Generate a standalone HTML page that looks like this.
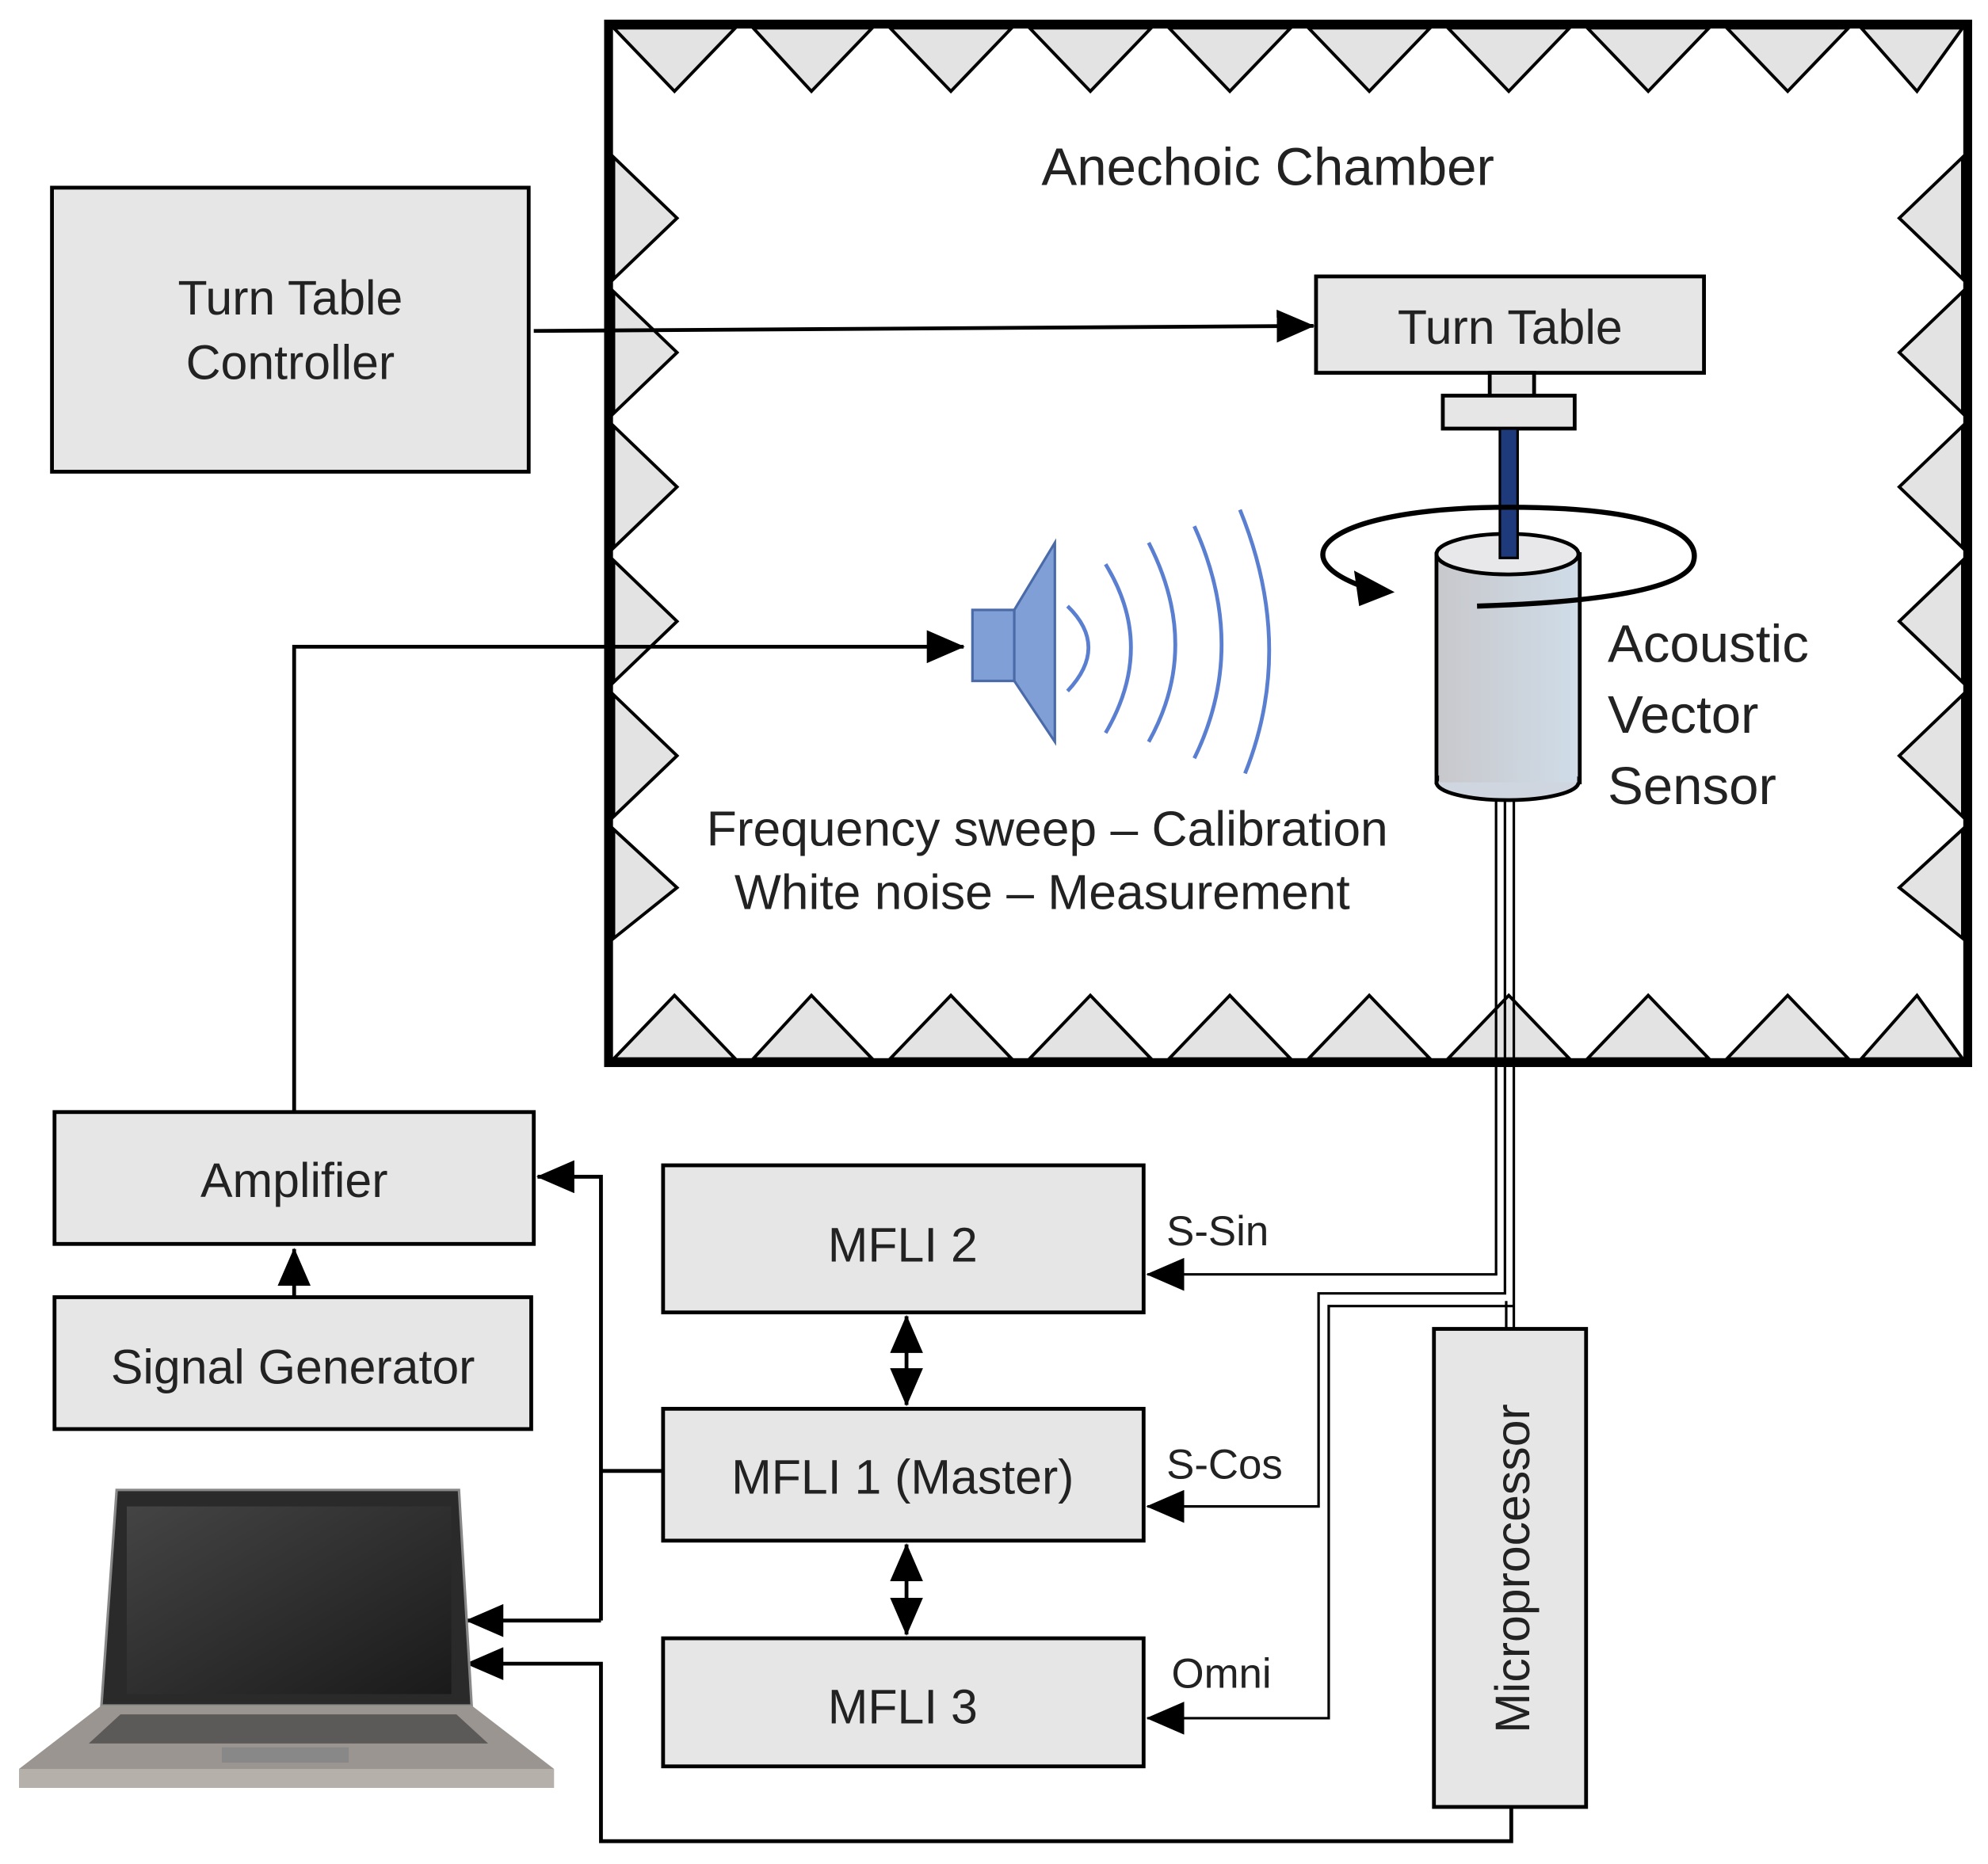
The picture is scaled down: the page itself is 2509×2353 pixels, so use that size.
<!DOCTYPE html>
<html><head><meta charset="utf-8"><style>
html,body{margin:0;padding:0;background:#fff}
svg{display:block}
text{font-family:"Liberation Sans","DejaVu Sans",sans-serif;fill:#222}
</style></head><body>
<svg width="2509" height="2353" viewBox="0 0 1568 1470" preserveAspectRatio="none" xmlns="http://www.w3.org/2000/svg">
<defs>
<marker id="a2" markerWidth="30" markerHeight="26" refX="29" refY="13" orient="auto-start-reverse" markerUnits="userSpaceOnUse" viewBox="0 0 30 26">
<path d="M0,0 L30,13 L0,26 z" fill="#000"/></marker>
<linearGradient id="cyl" x1="0" x2="1"><stop offset="0" stop-color="#c8c8cc"/><stop offset="1" stop-color="#cfdce8"/></linearGradient>
<linearGradient id="scr" x1="0" y1="0" x2="1" y2="1"><stop offset="0" stop-color="#444"/><stop offset="1" stop-color="#1a1a1a"/></linearGradient>
</defs>
<rect x="480" y="19" width="1072" height="819" fill="#fff" stroke="#000" stroke-width="7"/>
<g fill="#e3e3e3" stroke="#000" stroke-width="2.5">
<polygon points="484,22 580,22 532,72"/><polygon points="594,22 688,22 640,72"/><polygon points="702,22 798,22 750,72"/><polygon points="812,22 908,22 860,72"/><polygon points="922,22 1018,22 970,72"/><polygon points="1032,22 1128,22 1080,72"/><polygon points="1142,22 1238,22 1190,72"/><polygon points="1252,22 1348,22 1300,72"/><polygon points="1362,22 1458,22 1410,72"/><polygon points="1468,22 1548,22 1512,72"/>
<polygon points="484,835 580,835 532,785"/><polygon points="594,835 688,835 640,785"/><polygon points="702,835 798,835 750,785"/><polygon points="812,835 908,835 860,785"/><polygon points="922,835 1018,835 970,785"/><polygon points="1032,835 1128,835 1080,785"/><polygon points="1142,835 1238,835 1190,785"/><polygon points="1252,835 1348,835 1300,785"/><polygon points="1362,835 1458,835 1410,785"/><polygon points="1468,835 1548,835 1512,785"/>
<polygon points="484,124 484,220 534,172"/><polygon points="484,230 484,326 534,278"/><polygon points="484,336 484,432 534,384"/><polygon points="484,442 484,538 534,490"/><polygon points="484,548 484,644 534,596"/><polygon points="484,654 484,740 534,700"/>
<polygon points="1548,124 1548,220 1498,172"/><polygon points="1548,230 1548,326 1498,278"/><polygon points="1548,336 1548,432 1498,384"/><polygon points="1548,442 1548,538 1498,490"/><polygon points="1548,548 1548,644 1498,596"/><polygon points="1548,654 1548,740 1498,700"/>
</g>
<text x="1000" y="146" font-size="42" text-anchor="middle">Anechoic Chamber</text>
<g fill="#e6e6e6" stroke="#000" stroke-width="3">
<rect x="41" y="148" width="376" height="224"/>
<rect x="1038" y="218" width="306" height="76"/>
<rect x="1175" y="294" width="35" height="18"/>
<rect x="1138" y="312" width="104" height="26"/>
<rect x="43" y="877" width="378" height="104"/>
<rect x="43" y="1023" width="376" height="104"/>
<rect x="523" y="919" width="379" height="116"/>
<rect x="523" y="1111" width="379" height="104"/>
<rect x="523" y="1292" width="379" height="101"/>
<rect x="1131" y="1048" width="120" height="377"/>
</g>
<g font-size="38" text-anchor="middle">
<text x="229" y="248">Turn Table</text><text x="229" y="299">Controller</text>
<text x="1191" y="271">Turn Table</text>
<text x="232" y="944">Amplifier</text>
<text x="231" y="1091">Signal Generator</text>
<text x="712" y="995">MFLI 2</text>
<text x="712" y="1178">MFLI 1 (Master)</text>
<text x="712" y="1359">MFLI 3</text>
<text transform="translate(1206,1237) rotate(-90)">Microprocessor</text>
</g>
<g font-size="33">
<text x="920" y="982">S-Sin</text><text x="920" y="1166">S-Cos</text><text x="924" y="1331">Omni</text>
</g>
<text x="826" y="667" font-size="39" text-anchor="middle">Frequency sweep – Calibration</text>
<text x="822" y="717" font-size="39" text-anchor="middle">White noise – Measurement</text>
<g font-size="42"><text x="1268" y="522">Acoustic</text><text x="1268" y="578">Vector</text><text x="1268" y="634">Sensor</text></g>
<rect x="1133" y="437" width="113" height="180" fill="url(#cyl)" stroke="#000" stroke-width="3"/>
<ellipse cx="1189" cy="617" rx="56" ry="14" fill="#cfd6e0" stroke="#000" stroke-width="3"/>
<rect x="1135" y="600" width="109" height="17" fill="url(#cyl)"/>
<ellipse cx="1189" cy="437" rx="56" ry="16" fill="#e8e8ea" stroke="#000" stroke-width="3"/>
<rect x="1183" y="338" width="14" height="102" fill="#1f3a7a" stroke="#000" stroke-width="2"/>
<path d="M1085,466 C1000,440 1050,400 1190,400 C1300,400 1345,420 1335,445 C1325,465 1260,475 1165,478" fill="none" stroke="#000" stroke-width="4"/>
<path d="M1068,450 L1100,467 L1072,478 z" fill="#000"/>
<g stroke="#000" stroke-width="2" fill="none">
<path d="M1180,630 V1005"/><path d="M1187,630 V1020"/><path d="M1194,630 V1048"/>
<path d="M1181,1005 H905" marker-end="url(#a2)"/>
<path d="M1188,1020 H1040 V1188 H905" marker-end="url(#a2)"/>
<path d="M1188,1026 V1048"/>
<path d="M1194,1030 H1048 V1355 H905" marker-end="url(#a2)"/>
</g>
<g stroke="#000" stroke-width="3" fill="none">
<path d="M421,261 L1036,257" marker-end="url(#a2)"/>
<path d="M232,877 V510 H760" marker-end="url(#a2)"/>
<path d="M232,1023 V985" marker-end="url(#a2)"/>
<path d="M523,1160 H474"/>
<path d="M474,1278 V928 H424" marker-end="url(#a2)"/>
<path d="M474,1278 H368" marker-end="url(#a2)"/>
<path d="M1192,1425 V1452 H474 V1312 H368" marker-end="url(#a2)"/>
<path d="M715,1038 V1108" marker-end="url(#a2)" marker-start="url(#a2)"/>
<path d="M715,1218 V1289" marker-end="url(#a2)" marker-start="url(#a2)"/>
</g>
<rect x="767" y="481" width="33" height="56" fill="#7f9fd6" stroke="#4a6aa8" stroke-width="2"/>
<polygon points="800,481 832,428 832,585 800,537" fill="#7f9fd6" stroke="#4a6aa8" stroke-width="2"/>
<g fill="none" stroke="#5a7fd0" stroke-width="3">
<path d="M842,478 Q875,510 842,545"/>
<path d="M872,445 Q912,510 872,578"/>
<path d="M906,428 Q948,510 906,585"/>
<path d="M942,415 Q985,510 942,598"/>
<path d="M978,402 Q1022,510 982,610"/>
</g>
<path d="M92,1175 H362 L372,1345 H80 z" fill="#2a2a2a" stroke="#888" stroke-width="2"/>
<rect x="100" y="1188" width="256" height="148" fill="url(#scr)"/>
<path d="M80,1345 H372 L437,1395 H15 z" fill="#9a9590"/>
<path d="M95,1352 H360 L385,1375 H70 z" fill="#5c5a58"/>
<rect x="15" y="1395" width="422" height="15" fill="#b5b0aa"/>
<rect x="175" y="1378" width="100" height="12" fill="#888"/>
</svg>
</body></html>
